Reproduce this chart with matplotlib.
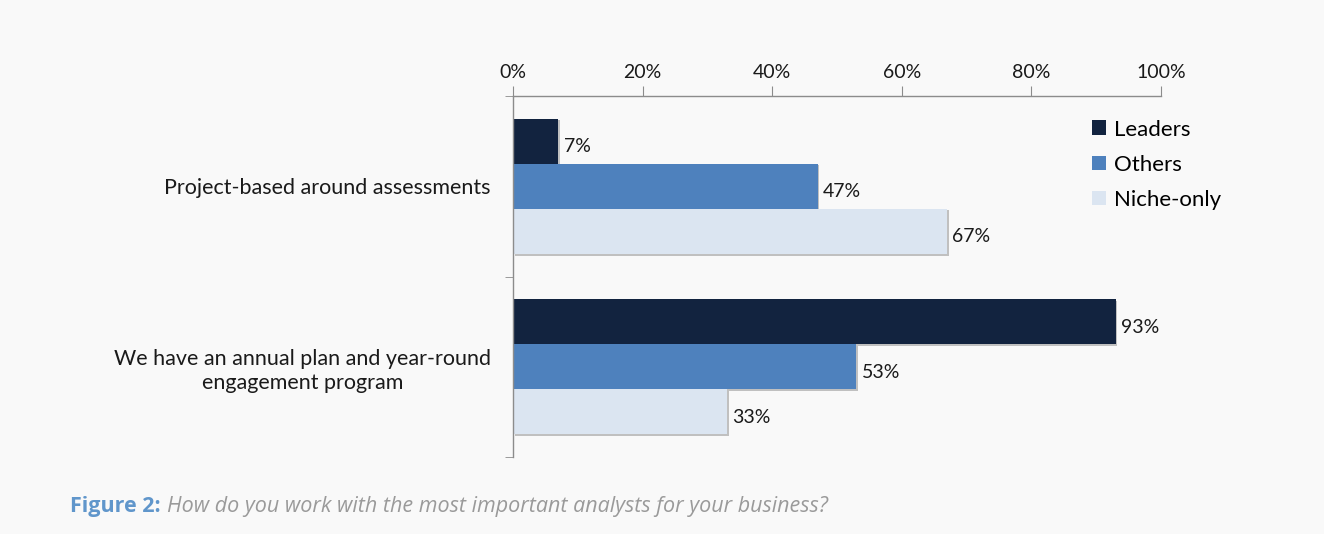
import numpy as np
import matplotlib.pyplot as plt
from matplotlib.ticker import FixedLocator
import matplotlib.patheffects as pe

categories = ["Project-based around assessments",
              "We have an annual plan and year-round\nengagement program"]
series_names = ["Leaders", "Others", "Niche-only"]
leaders = [7, 93]
others = [47, 53]
niche_only = [67, 33]
series_values = [leaders, others, niche_only]
series_colors = ["#12233f", "#4e81bd", "#dbe5f1"]

plt.rcParams["font.family"] = ["Lato", "DejaVu Sans"]

bg = "#f9f9f9"
fig = plt.figure(figsize=(13.24, 5.34), dpi=100, facecolor=bg)
ax = fig.add_axes([0.3875, 0.1442, 0.4894, 0.6760], facecolor=bg)

y = np.arange(len(categories))
bar_h = 0.25
shadow = [pe.SimplePatchShadow(offset=(1.2, -1.2), shadow_rgbFace="#9a9a9a", alpha=0.6), pe.Normal()]
for i, (name, vals, col) in enumerate(zip(series_names, series_values, series_colors)):
    pos = y - bar_h + i * bar_h
    bars = ax.barh(pos, vals, height=bar_h, color=col, label=name, zorder=2)
    for b in bars:
        b.set_path_effects(shadow)
    for p, v in zip(pos, vals):
        ax.text(v + 0.8, p + 0.03, f"{v}%", va="center", ha="left", fontsize=14, color="#1a1a1a")

ax.set_xlim(0, 100)
ax.set_ylim(1.5, -0.5)
ax.xaxis.tick_top()
ax.set_xticks(np.arange(0, 101, 20))
ax.set_xticklabels([f"{t}%" for t in range(0, 101, 20)], fontsize=14, color="#1a1a1a")
ax.tick_params(axis="x", direction="out", length=7, color="#8c8c8c", pad=4)

ax.set_yticks(y)
ax.set_yticklabels(categories, fontsize=15.5, color="#1a1a1a", linespacing=1.25)
for lbl in ax.get_yticklabels():
    lbl.set_multialignment("center")
ax.tick_params(axis="y", length=0, pad=16)
ax.yaxis.set_minor_locator(FixedLocator([-0.5, 0.5, 1.5]))
ax.tick_params(axis="y", which="minor", length=6, color="#8c8c8c")

for s in ["right", "bottom"]:
    ax.spines[s].set_visible(False)
for s in ["top", "left"]:
    ax.spines[s].set_color("#8c8c8c")
    ax.spines[s].set_linewidth(1)

leg = ax.legend(loc="upper left", bbox_to_anchor=(0.862, 0.99), frameon=False,
                fontsize=16, handlelength=0.65, handleheight=0.65, handletextpad=0.35,
                labelspacing=0.68)
for h in leg.legend_handles:
    h.set_path_effects([])

t1 = fig.text(0.053, 0.052, "Figure 2:", fontsize=15.5, fontweight="bold",
              color="#6096cb", va="center", ha="left", family="Open Sans")
fig.canvas.draw()
bb = t1.get_window_extent()
x2 = (bb.x1 + 6) / fig.bbox.width
fig.text(x2, 0.052, "How do you work with the most important analysts for your business?",
         fontsize=15.5, style="italic", color="#9a9a9a", va="center", ha="left", family="Open Sans")

fig.savefig("out.png", dpi=100, facecolor=bg)
